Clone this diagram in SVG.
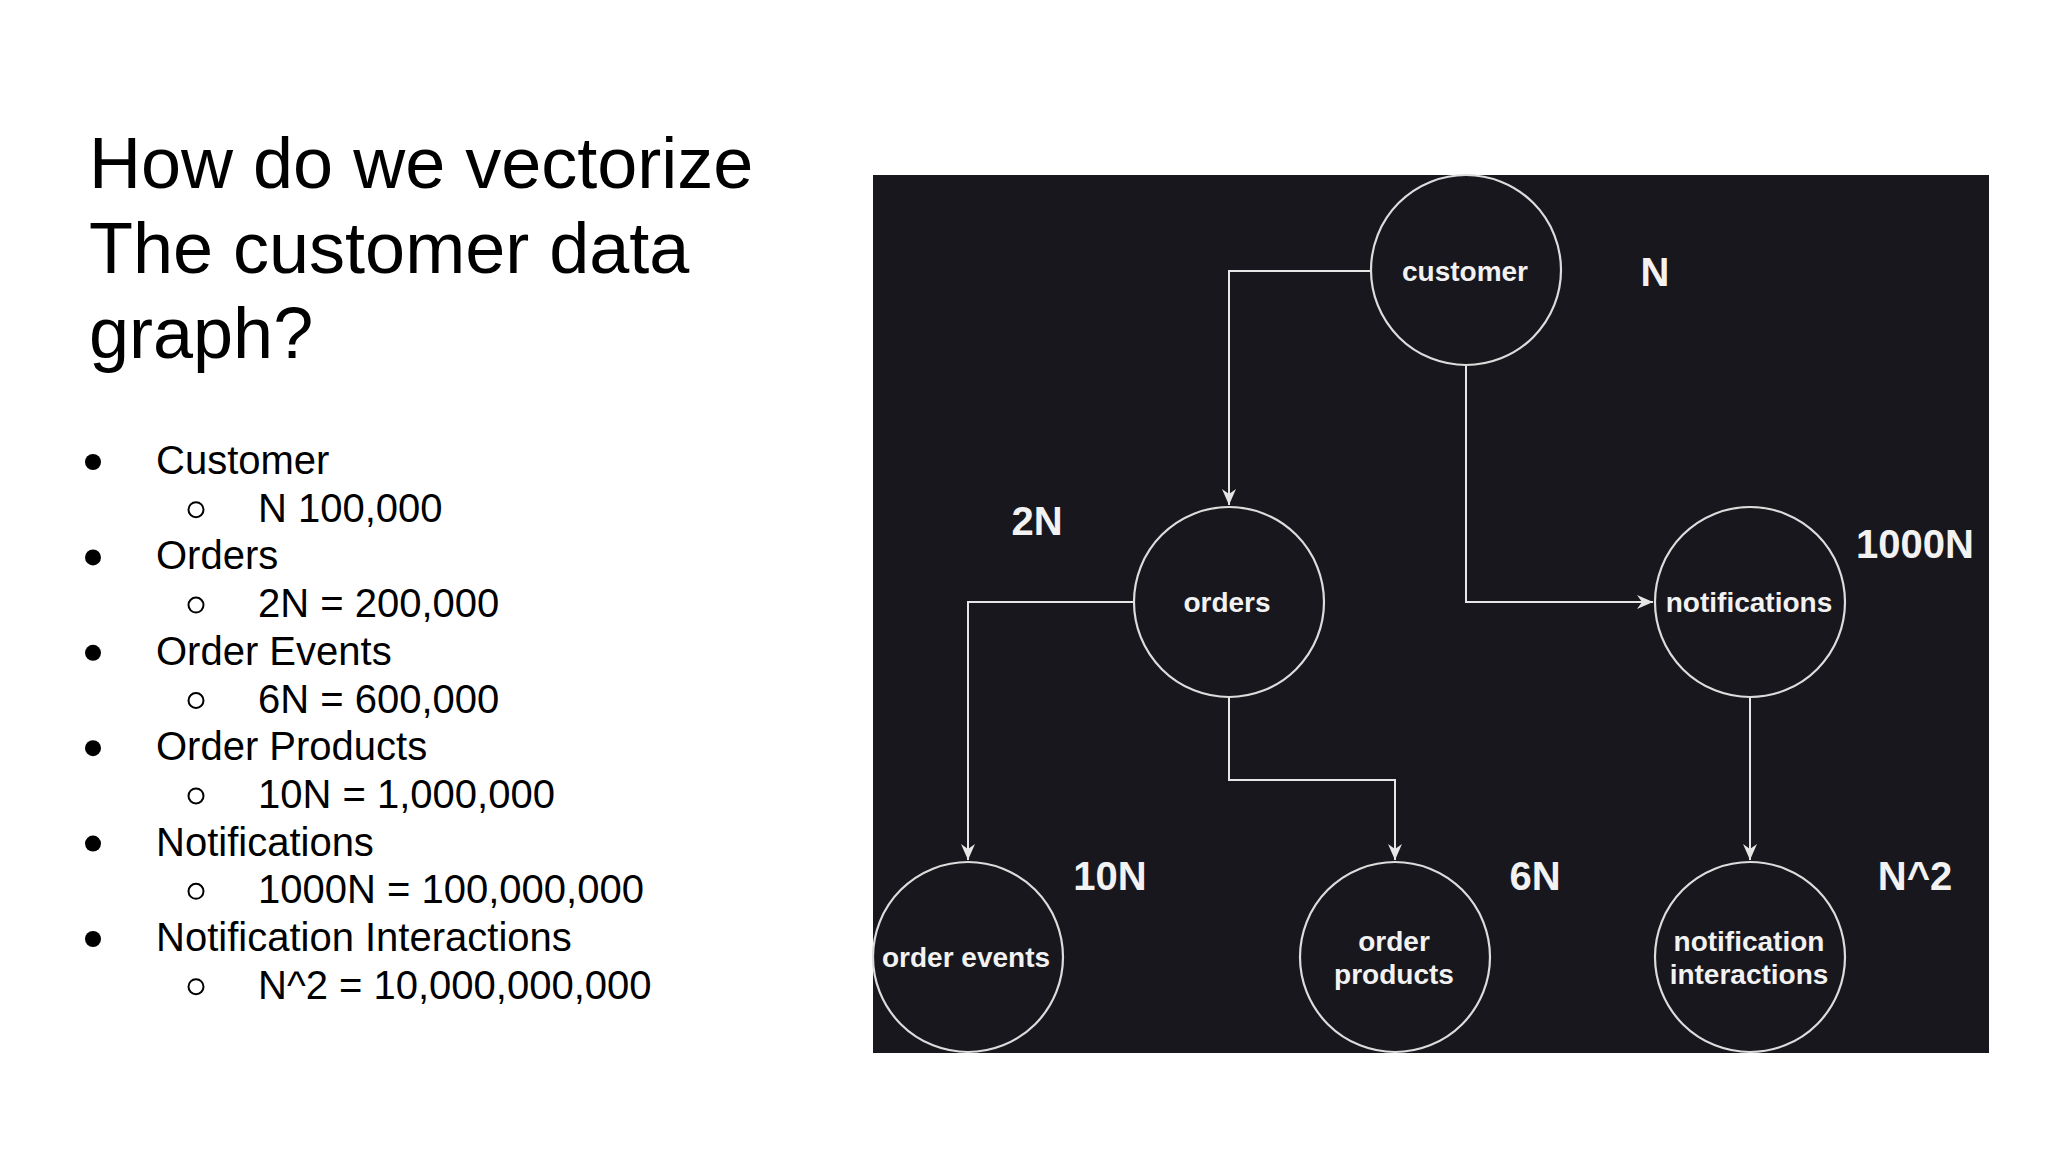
<svg xmlns="http://www.w3.org/2000/svg" width="2048" height="1152" viewBox="0 0 2048 1152">
  <style>
    .title { font-family: "Liberation Sans", Arial, sans-serif; font-size: 72px; fill: #000; }
    .item { font-family: "Liberation Sans", Arial, sans-serif; font-size: 40px; fill: #000; }
    .node circle { fill: #18171d; stroke: #dcdcdc; stroke-width: 2.2; }
    .node text { font-family: "Liberation Sans", Arial, sans-serif; font-size: 28px; font-weight: bold; fill: #f2f2f2; text-anchor: middle; }
    .count { font-family: "Liberation Sans", Arial, sans-serif; font-size: 40px; font-weight: bold; fill: #f2f2f2; text-anchor: middle; }
    .edge { fill: none; stroke: #e6e6e6; stroke-width: 2; }
    .dot { fill: #000; }
    .ring { fill: none; stroke: #000; stroke-width: 2; }
  </style>
  <defs>
    <marker id="arrow" markerUnits="userSpaceOnUse" markerWidth="20" markerHeight="20" viewBox="-18 -10 20 20" refX="0" refY="0" orient="auto">
      <path d="M0,0 L-16,-7 L-11,0 L-16,7 Z" fill="#e6e6e6"/>
    </marker>
  </defs>
  <rect width="2048" height="1152" fill="#ffffff"/>

  <g id="title">
    <text class="title" x="89" y="188">How do we vectorize</text>
    <text class="title" x="89" y="273">The customer data</text>
    <text class="title" x="89" y="358">graph?</text>
  </g>

  <g id="list">
    <circle class="dot" cx="93" cy="462" r="8"/>
    <text class="item" x="156" y="474">Customer</text>
    <circle class="ring" cx="196" cy="509.7" r="7.5"/>
    <text class="item" x="258" y="521.7">N 100,000</text>
    <circle class="dot" cx="93" cy="557.4" r="8"/>
    <text class="item" x="156" y="569.4">Orders</text>
    <circle class="ring" cx="196" cy="605.1" r="7.5"/>
    <text class="item" x="258" y="617.1">2N = 200,000</text>
    <circle class="dot" cx="93" cy="652.8" r="8"/>
    <text class="item" x="156" y="664.8">Order Events</text>
    <circle class="ring" cx="196" cy="700.5" r="7.5"/>
    <text class="item" x="258" y="712.5">6N = 600,000</text>
    <circle class="dot" cx="93" cy="748.2" r="8"/>
    <text class="item" x="156" y="760.2">Order Products</text>
    <circle class="ring" cx="196" cy="795.9" r="7.5"/>
    <text class="item" x="258" y="807.9">10N = 1,000,000</text>
    <circle class="dot" cx="93" cy="843.6" r="8"/>
    <text class="item" x="156" y="855.6">Notifications</text>
    <circle class="ring" cx="196" cy="891.3" r="7.5"/>
    <text class="item" x="258" y="903.3">1000N = 100,000,000</text>
    <circle class="dot" cx="93" cy="939" r="8"/>
    <text class="item" x="156" y="951">Notification Interactions</text>
    <circle class="ring" cx="196" cy="986.7" r="7.5"/>
    <text class="item" x="258" y="998.7">N^2 = 10,000,000,000</text>
  </g>

  <rect id="panel" x="873" y="175" width="1116" height="878" fill="#18171d"/>

  <g id="connectors">
    <path class="edge" d="M1371,271 H1229 V505" marker-end="url(#arrow)"/>
    <path class="edge" d="M1466,365 V602 H1653" marker-end="url(#arrow)"/>
    <path class="edge" d="M1134,602 H968 V860" marker-end="url(#arrow)"/>
    <path class="edge" d="M1229,697 V780 H1395 V860" marker-end="url(#arrow)"/>
    <path class="edge" d="M1750,697 V860" marker-end="url(#arrow)"/>
  </g>

  <g id="customer" class="node">
    <circle cx="1466" cy="270" r="95"/>
    <text x="1465" y="281">customer</text>
  </g>
  <g id="orders" class="node">
    <circle cx="1229" cy="602" r="95"/>
    <text x="1227" y="612">orders</text>
  </g>
  <g id="notifications" class="node">
    <circle cx="1750" cy="602" r="95"/>
    <text x="1749" y="612">notifications</text>
  </g>
  <g id="order-events" class="node">
    <circle cx="968" cy="957" r="95"/>
    <text x="966" y="967">order events</text>
  </g>
  <g id="order-products" class="node">
    <circle cx="1395" cy="957" r="95"/>
    <text x="1394" y="951">order</text>
    <text x="1394" y="984">products</text>
  </g>
  <g id="notification-interactions" class="node">
    <circle cx="1750" cy="957" r="95"/>
    <text x="1749" y="951">notification</text>
    <text x="1749" y="984">interactions</text>
  </g>

  <g id="counts">
    <text class="count" x="1655" y="286">N</text>
    <text class="count" x="1037" y="535">2N</text>
    <text class="count" x="1915" y="558">1000N</text>
    <text class="count" x="1110" y="890">10N</text>
    <text class="count" x="1535" y="890">6N</text>
    <text class="count" x="1915" y="890">N^2</text>
  </g>
</svg>
